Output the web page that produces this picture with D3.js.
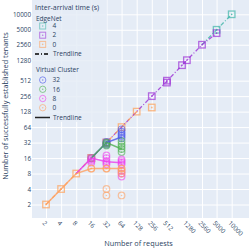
<!DOCTYPE html>
<html><head><meta charset="utf-8">
<script src="https://cdn.jsdelivr.net/npm/d3@7"></script>
<style>html,body{margin:0;padding:0;background:#fff;}svg{display:block;}text{font-family:"Open Sans",sans-serif;fill:#2a3f5f;}</style>
</head><body>
<script>
// ---- data ----
const tickValues = [2,4,8,16,32,64,128,256,512,1280,2560,5000,10000];
const tickLabels = ["2","4","8","16","32","64","128","256","512","1280","2560","5000","10000"];

// EdgeNet (squares)
const en4X = [5000,10000];
const en4Y = [5000,10000];
const en2X = [16,32,256,512,512,1024,1280,2560,5000];
const en2Y = [16,32,256,512,470,1024,1280,2560,4300];
const en0X = [2,4,8,16,32,64,128,256];
const en0Y = [2,4,8,16,32,64,128,154];
// EdgeNet trendlines
const en4TX = [2560,5000,10000];
const en4TY = [2560,5000,10000];
const en2TX = [8,16,32,128,256,512,1024,1280,2560,5000];
const en2TY = [8,16,32,128,256,500,1024,1280,2560,4300];
const en0TX = [2,4,8,16,32,64,128];
const en0TY = [2,4,8,16,32,64,128];

// Virtual Cluster (circles)
const vc32X = [32,32,32,64,64,64,64,64];
const vc32Y = [33,31,29,58,52,47,43,39];
const vc16X = [16,32,32,32,64,64,64,64,64];
const vc16Y = [16,32,30,28,34,30,27,24,21];
const vc8X = [16,16,16,16,32,32,32,32,32,64,64,64,64,64,64,64];
const vc8Y = [16,15,14,13,18,16,14,13,12,15,14,13,12,9,8,7];
const vc0X = [16,16,32,32,32,32,64,64,64,64,64];
const vc0Y = [10,10,10,10,4,3,10,10,9,8,3];
// Virtual Cluster trendlines
const vc32TX = [16,32,64];
const vc32TY = [16,32,41];
const vc16TX = [16,32,64];
const vc16TY = [16,32,24];
const vc8TX = [8,16,32,64];
const vc8TY = [8,16,13.6,13];
const vc0TX = [2,4,8,16,32,64];
const vc0TY = [2,4,8,10,10,10];

const W = 249, H = 249;
const plot = {l:32, r:249, t:0, b:218};
const svg = d3.select("body").append("svg").attr("width",W).attr("height",H);

const x = d3.scaleLog().domain([2,10000]).range([46,231.7]);
const y = d3.scaleLog().domain([2,10000]).range([204.5,14.3]);

svg.append("rect").attr("x",plot.l).attr("y",plot.t).attr("width",plot.r-plot.l).attr("height",plot.b-plot.t).attr("fill","#e5ecf6");

// grid
const xAxis = d3.axisBottom(x).tickValues(tickValues).tickFormat((d,i)=>tickLabels[i]).tickSize(-(plot.b-plot.t)).tickPadding(0);
const gx = svg.append("g").attr("transform",`translate(0,${plot.b})`).call(xAxis);
gx.select(".domain").remove();
gx.selectAll("line").attr("stroke","#fff").attr("stroke-width",1);
gx.selectAll("text").attr("text-anchor","start").attr("font-size","6.3px").attr("fill","#2a3f5f")
  .attr("transform",function(){return "translate(-3,4) rotate(45)";}).attr("y",0).attr("dy","0.35em").attr("x",0);

const yAxis = d3.axisLeft(y).tickValues(tickValues).tickFormat((d,i)=>tickLabels[i]).tickSize(-(plot.r-plot.l)).tickPadding(1);
const gy = svg.append("g").attr("transform",`translate(${plot.l},0)`).call(yAxis);
gy.select(".domain").remove();
gy.selectAll("line").attr("stroke","#fff").attr("stroke-width",1);
gy.selectAll("text").attr("font-size","6.3px").attr("fill","#2a3f5f");

svg.append("clipPath").attr("id","clip").append("rect").attr("x",plot.l).attr("y",plot.t).attr("width",plot.r-plot.l).attr("height",plot.b-plot.t);
const g = svg.append("g").attr("clip-path","url(#clip)");

const line = d3.line().x(d=>x(d[0])).y(d=>y(d[1]));
const zip = (a,b)=>a.map((v,i)=>[v,b[i]]);

function squares(xs,ys,color,op){
  const pts = zip(xs,ys);
  const s = 6.5;
  g.selectAll(null).data(pts).enter().append("rect")
    .attr("x",d=>x(d[0])-s/2).attr("y",d=>y(d[1])-s/2).attr("width",s).attr("height",s)
    .attr("fill","none").attr("stroke",color).attr("stroke-width",1.3).attr("opacity",op);
  g.selectAll(null).data(pts).enter().append("circle")
    .attr("cx",d=>x(d[0])).attr("cy",d=>y(d[1])).attr("r",0.9).attr("fill",color).attr("opacity",op);
}
function circles(xs,ys,color,op){
  const pts = zip(xs,ys);
  g.selectAll(null).data(pts).enter().append("circle")
    .attr("cx",d=>x(d[0])).attr("cy",d=>y(d[1])).attr("r",3.3)
    .attr("fill","none").attr("stroke",color).attr("stroke-width",1.2).attr("opacity",op);
  g.selectAll(null).data(pts).enter().append("circle")
    .attr("cx",d=>x(d[0])).attr("cy",d=>y(d[1])).attr("r",0.8).attr("fill",color).attr("opacity",op);
}
function trend(xs,ys,color,dash,w,op){
  g.append("path").datum(zip(xs,ys)).attr("d",line).attr("fill","none")
    .attr("stroke",color).attr("stroke-width",w).attr("stroke-dasharray",dash).attr("opacity",op);
}

const C = {en4:"#3fb5a8", en2:"#9b2fd6", en0:"#ff9f55", vc32:"#4a55e8", vc16:"#4cb050", vc8:"#ec3fec", vc0:"#ffa060"};

squares(en4X,en4Y,C.en4,0.7);
squares(en2X,en2Y,C.en2,0.7);
squares(en0X,en0Y,C.en0,0.7);
trend(en4TX,en4TY,C.en4,"4,2,1,2",1.3,0.8);
trend(en2TX,en2TY,C.en2,"4,2,1,2",1.3,0.8);
trend(en0TX,en0TY,C.en0,"4,2,1,2",1.3,0.8);

circles(vc32X,vc32Y,C.vc32,0.6);
circles(vc16X,vc16Y,C.vc16,0.6);
circles(vc8X,vc8Y,C.vc8,0.6);
circles(vc0X,vc0Y,C.vc0,0.6);
trend(vc32TX,vc32TY,C.vc32,null,1.5,0.8);
trend(vc16TX,vc16TY,C.vc16,null,1.5,0.8);
trend(vc8TX,vc8TY,C.vc8,null,1.5,0.8);
trend(vc0TX,vc0TY,C.vc0,null,1.5,0.8);

// legend
const lg = svg.append("g");
lg.append("rect").attr("x",plot.l).attr("y",0).attr("width",75).attr("height",122).attr("fill","#e5ecf6").attr("opacity",0.85);
lg.append("text").attr("x",35).attr("y",7.5).attr("dy","0.35em").attr("font-size","7px").text("Inter-arrival time (s)");
lg.append("text").attr("x",36).attr("y",18.5).attr("dy","0.35em").attr("font-size","6.5px").text("EdgeNet");
const enLeg = [["4",C.en4,26],["2",C.en2,35.2],["0",C.en0,44.4]];
enLeg.forEach(([t,c,yy])=>{
  lg.append("rect").attr("x",42.7-3).attr("y",yy-3).attr("width",6).attr("height",6).attr("fill","none").attr("stroke",c).attr("stroke-width",1).attr("opacity",0.6);
  lg.append("circle").attr("cx",42.7).attr("cy",yy).attr("r",0.8).attr("fill",c).attr("opacity",0.6);
  lg.append("text").attr("x",52.5).attr("y",yy).attr("dy","0.35em").attr("font-size","6.5px").text(t);
});
lg.append("line").attr("x1",35).attr("x2",50).attr("y1",54).attr("y2",54).attr("stroke","#000").attr("stroke-width",1.3).attr("stroke-dasharray","4,2,1,2");
lg.append("text").attr("x",53).attr("y",54).attr("dy","0.35em").attr("font-size","6.5px").text("Trendline");
lg.append("text").attr("x",36).attr("y",70).attr("dy","0.35em").attr("font-size","6.5px").text("Virtual Cluster");
const vcLeg = [["32",C.vc32,80],["16",C.vc16,89.3],["8",C.vc8,98.5],["0",C.vc0,107.7]];
vcLeg.forEach(([t,c,yy])=>{
  lg.append("circle").attr("cx",42.7).attr("cy",yy).attr("r",3.2).attr("fill","none").attr("stroke",c).attr("stroke-width",1).attr("opacity",0.6);
  lg.append("circle").attr("cx",42.7).attr("cy",yy).attr("r",0.8).attr("fill",c).attr("opacity",0.6);
  lg.append("text").attr("x",52.5).attr("y",yy).attr("dy","0.35em").attr("font-size","6.5px").text(t);
});
lg.append("line").attr("x1",35).attr("x2",50).attr("y1",117.5).attr("y2",117.5).attr("stroke","#222").attr("stroke-width",1.5);
lg.append("text").attr("x",53).attr("y",117.5).attr("dy","0.35em").attr("font-size","6.5px").text("Trendline");

// axis titles
svg.append("text").attr("x",138.5).attr("y",246).attr("text-anchor","middle").attr("font-size","7.3px").text("Number of requests");
svg.append("text").attr("transform","translate(8,106) rotate(-90)").attr("text-anchor","middle").attr("font-size","7.3px").text("Number of successfully established tenants");
</script>
</body></html>
